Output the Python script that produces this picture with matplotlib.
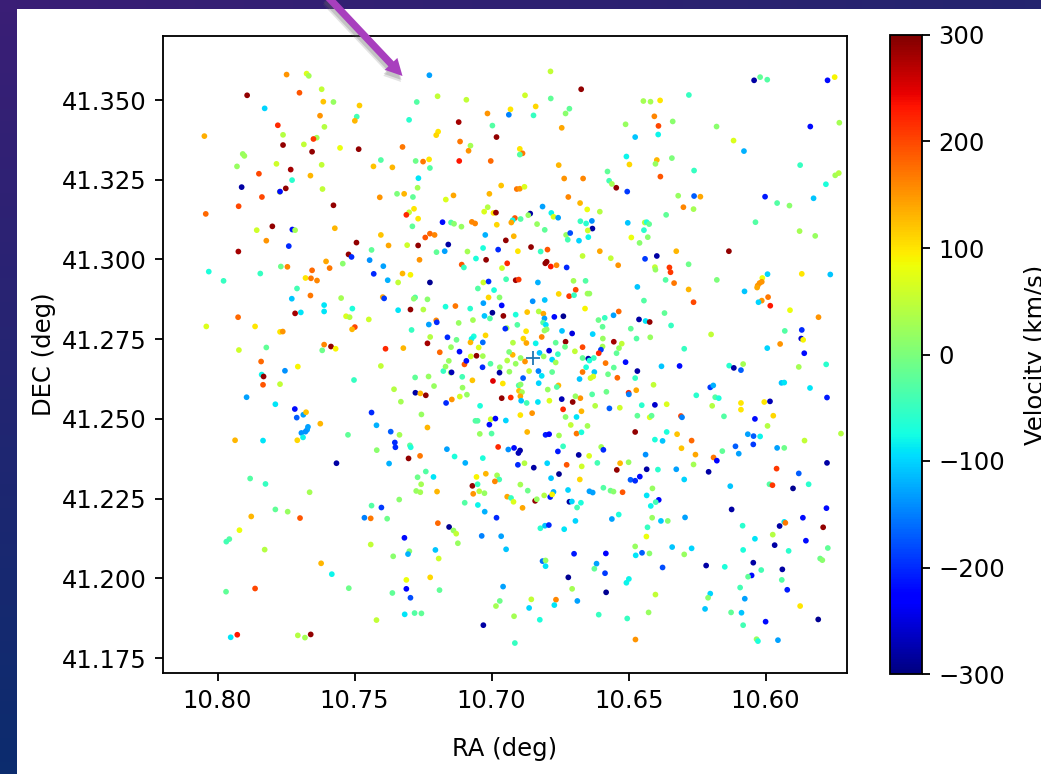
import numpy as np
import matplotlib
matplotlib.use('Agg')
import matplotlib.pyplot as plt
from matplotlib.patches import FancyArrowPatch, Rectangle

# ---- data: RA (deg), DEC (deg), velocity (km/s), region by region ----
ra_nw = [10.7748,10.7675,10.7667,10.7620,10.7701,10.7892,10.7614,10.7577,10.7482,10.7227,10.7273,10.7197,
 10.7092,10.7828,10.7626,10.7492,10.7499,10.7301,10.7780,10.7610,10.7015,10.7120,10.6997,10.7195,
 10.7202,10.8048,10.7761,10.7638,10.7650,10.7761,10.7685,10.7655,10.7553,10.7485,10.7325,10.7115,
 10.7077,10.7084,10.6982,10.7908,10.7902,10.7929,10.7785,10.7733,10.7620,10.7404,10.7431,10.7362,
 10.7277,10.7250,10.7228,10.7225,10.7118,10.7003,10.7849,10.7661,10.7728,10.7267,10.7912,10.7751,
 10.7773,10.7772,10.7617,10.7270,10.7345,10.7319,10.7408,10.7287,10.7139,10.7167,10.7008,10.7838,
 10.7923,10.7577,10.8043,10.7014,10.7027,10.6993,10.6984,10.7283,10.7301,10.7311,10.7268,10.7179,
 10.7148,10.7137,10.7110,10.7072,10.7060,10.6981,10.7289,10.7857,10.7800,10.7727,10.7717,10.7572,
 10.7404,10.7225,10.7242,10.7208,10.7023,10.7822,10.7493,10.7740,10.7376,10.7308,10.7268,10.7158,
 10.7171,10.7201,10.7031,10.6976,10.7088,10.7924,10.7438,10.7522,10.7511,10.7445,10.7604,10.7591,
 10.7543,10.7395,10.7263,10.7057,10.7020,10.7109,10.7101,10.7769,10.7745,10.8032,10.7844,10.7655,
 10.7430,10.7325,10.7296,10.7679,10.7659,10.7637,10.7379,10.7341,10.7978,10.7225,10.7030,10.7011,
 10.7710,10.7050,10.6991,10.7661,10.7729,10.7549,10.7397,10.7392,10.7279,10.7284,10.7234,10.7011,
 10.6971,10.7611,10.7508,10.7341,10.7296,10.7249,10.7168,10.7132,10.7078,10.7030,10.6963,10.7611,
 10.7717,10.7696,10.6997,10.7026,10.7006,10.7531,10.7518,10.7448,10.7925,10.7120,10.7068,10.7202,
 10.7200,10.7229,10.7863,10.8041,10.7772,10.7762,10.7499,10.7509,10.7292,10.7224,10.7161,10.7022,
 10.7065,10.7073,10.7128,10.7032,10.7077,10.7611,10.7586,10.7569,10.7822,10.7922,10.7618,10.7387,
 10.7322,10.7234,10.7148,10.7047]
dec_nw = [41.3580,41.3583,41.3576,41.3534,41.3523,41.3515,41.3495,41.3494,41.3483,41.3578,41.3494,41.3512,
 41.3501,41.3474,41.3451,41.3448,41.3435,41.3438,41.3421,41.3416,41.3458,41.3431,41.3420,41.3401,
 41.3390,41.3387,41.3391,41.3382,41.3378,41.3359,41.3361,41.3338,41.3350,41.3346,41.3353,41.3370,
 41.3357,41.3341,41.3384,41.3331,41.3325,41.3292,41.3300,41.3282,41.3297,41.3312,41.3292,41.3289,
 41.3309,41.3307,41.3314,41.3287,41.3309,41.3309,41.3269,41.3263,41.3249,41.3255,41.3227,41.3223,
 41.3212,41.3213,41.3221,41.3225,41.3206,41.3206,41.3195,41.3196,41.3201,41.3188,41.3206,41.3196,
 41.3167,41.3170,41.3143,41.3164,41.3150,41.3146,41.3147,41.3159,41.3148,41.3140,41.3128,41.3117,
 41.3116,41.3112,41.3103,41.3118,41.3113,41.3109,41.3104,41.3092,41.3104,41.3094,41.3092,41.3098,
 41.3077,41.3081,41.3069,41.3077,41.3077,41.3059,41.3053,41.3042,41.3044,41.3045,41.3044,41.3047,
 41.3026,41.3023,41.3036,41.3031,41.3025,41.3025,41.3030,41.3016,41.3008,41.2998,41.2994,41.2973,
 41.2987,41.2979,41.2999,41.3003,41.2999,41.2984,41.2975,41.2978,41.2977,41.2962,41.2956,41.2966,
 41.2955,41.2956,41.2952,41.2942,41.2941,41.2934,41.2935,41.2928,41.2933,41.2928,41.2928,41.2931,
 41.2909,41.2909,41.2904,41.2887,41.2877,41.2879,41.2882,41.2878,41.2881,41.2877,41.2875,41.2881,
 41.2881,41.2857,41.2846,41.2841,41.2843,41.2843,41.2852,41.2854,41.2846,41.2863,41.2856,41.2837,
 41.2831,41.2834,41.2833,41.2823,41.2815,41.2822,41.2819,41.2812,41.2819,41.2801,41.2810,41.2809,
 41.2803,41.2796,41.2790,41.2790,41.2773,41.2774,41.2788,41.2781,41.2779,41.2757,41.2756,41.2762,
 41.2759,41.2751,41.2748,41.2740,41.2740,41.2733,41.2727,41.2720,41.2724,41.2716,41.2715,41.2720,
 41.2722,41.2737,41.2725,41.2724]
vel_nw = [150,70,30,50,190,290,120,20,115,-130,-30,50,
 50,-100,150,-40,130,-60,220,40,150,280,-30,100,
 110,135,40,30,210,290,50,290,80,290,170,170,
 30,150,290,20,25,20,60,280,50,-30,120,130,
 -10,170,100,-30,230,180,200,130,-60,-90,-280,290,
 60,-220,50,30,0,130,150,-20,140,70,130,200,
 200,290,180,40,70,100,290,100,50,220,100,-220,
 -30,10,20,160,160,110,-20,60,290,-220,30,130,
 120,180,190,160,-120,150,290,-200,140,60,290,-280,
 -130,-20,-70,-200,30,280,-20,290,-200,-140,140,170,
 10,-130,150,-70,290,190,-50,-10,160,-70,-50,180,
 -200,130,90,100,170,160,-120,50,-50,-290,60,-200,
 -40,-30,-70,170,-110,30,140,-190,-30,10,10,110,
 10,-90,-70,-90,290,40,-70,170,-60,-130,-220,-90,
 280,-90,-290,-110,-30,70,40,60,180,20,30,160,
 -200,-130,100,70,100,150,200,130,-50,40,-200,110,
 -70,-80,-10,-160,130,160,290,90,-20,60,-10,220,
 130,280,20,70]

ra_ne = [10.6785,10.6673,10.6878,10.6784,10.6931,10.6937,10.6839,10.6847,10.6716,10.6730,10.6744,
 10.6446,10.6420,10.6385,10.6280,10.6406,10.6391,10.6339,10.6511,10.6476,10.6392,10.6179,10.6117,
 10.6020,10.6042,10.5994,10.5774,10.5748,10.5837,10.5731,10.6079,
 10.6897,10.6887,10.6897,10.6508,10.6397,10.6402,10.6342,10.6497,10.6755,10.6577,10.6261,10.6384,10.5874,
 10.6965,10.6735,10.6666,10.6908,10.6897,10.6880,10.6571,10.6561,10.6545,10.6505,10.5780,10.5746,10.5733,
 10.6720,10.6677,10.6319,10.6261,10.6238,10.6002,10.5825,10.5958,10.5913,10.6814,10.6300,10.6263,10.6651,10.6605,
 10.6859,10.6866,10.6782,10.6774,10.6757,10.6915,10.6923,10.6928,10.6894,10.6363,10.6676,10.6655,10.6634,10.6503,10.6441,10.6434,10.6425,10.6037,
 10.6834,10.6806,10.6728,10.6713,10.6632,10.6649,10.6444,10.5876,10.5819,10.6919,10.6948,10.6722,10.6681,10.6647,10.6490,10.6430,10.6460,
 10.6856,10.6796,10.6821,10.6904,10.6605,10.6326,10.6134,10.6668,10.6565,10.6440,10.6397,10.6281,10.6538,
 10.6804,10.6799,10.6784,10.6763,10.6726,10.6943,10.6962,10.6351,10.6347,10.6404,10.6402,10.5993,10.5868,10.5764,
 10.6947,10.6912,10.6901,10.6831,10.6701,10.6657,10.6365,10.6178,10.6334,10.6468,10.6077,10.6012,10.6014,10.6022,10.6029,10.6031,
 10.6693,10.6281,10.6755,10.6717,10.6699,10.6650,10.6643,10.6850,10.6806,10.6444,10.6014,10.6026,10.5991,10.6263,10.5983,10.5911,
 10.6659,10.6828,10.6870,10.6811,10.6807,10.6912,10.6771,10.6738,10.6536,10.6555,10.6587,10.6610,10.6957,10.6369,10.5807,
 10.6812,10.6802,10.6906,10.6945,10.6950,10.6799,10.6807,10.6462,10.6438,10.6423,10.6595,10.6345,10.6492,
 10.6743,10.6874,10.6706,10.6631,10.5930,10.5868,10.6199,10.5870,10.5863,10.6817,10.6884,10.6594,10.6471,10.6421,
 10.6922,10.6873,10.6839,10.6766,10.6730,10.6554,10.6525,10.5947,10.5994,10.6668,10.6732,10.6595,10.6535,10.6297,10.6601]
dec_ne = [41.3590,41.3534,41.3515,41.3505,41.3471,41.3454,41.3480,41.3452,41.3473,41.3458,41.3413,
 41.3497,41.3495,41.3499,41.3516,41.3449,41.3419,41.3433,41.3424,41.3384,41.3392,41.3417,41.3373,
 41.3572,41.3562,41.3564,41.3562,41.3572,41.3417,41.3429,41.3340,
 41.3347,41.3333,41.3329,41.3323,41.3312,41.3300,41.3318,41.3298,41.3296,41.3276,41.3279,41.3260,41.3296,
 41.3232,41.3254,41.3254,41.3221,41.3222,41.3228,41.3247,41.3237,41.3225,41.3213,41.3236,41.3264,41.3271,
 41.3196,41.3177,41.3200,41.3199,41.3197,41.3197,41.3192,41.3177,41.3169,41.3166,41.3164,41.3158,41.3157,41.3150,
 41.3144,41.3139,41.3146,41.3134,41.3131,41.3130,41.3123,41.3116,41.3127,41.3140,41.3120,41.3113,41.3121,41.3115,41.3116,41.3117,41.3111,41.3117,
 41.3111,41.3093,41.3077,41.3083,41.3097,41.3091,41.3092,41.3089,41.3074,41.3073,41.3060,41.3062,41.3059,41.3070,41.3069,41.3070,41.3052,
 41.3039,41.3031,41.3025,41.3026,41.3026,41.3026,41.3026,41.3011,41.3004,41.3002,41.3011,41.2985,41.2982,
 41.2988,41.2993,41.2978,41.2982,41.2975,41.2988,41.2973,41.2975,41.2960,41.2976,41.2968,41.2954,41.2955,41.2953,
 41.2938,41.2935,41.2937,41.2928,41.2933,41.2933,41.2936,41.2936,41.2926,41.2914,41.2900,41.2942,41.2930,41.2926,41.2918,41.2912,
 41.2905,41.2906,41.2892,41.2885,41.2888,41.2893,41.2893,41.2869,41.2873,41.2871,41.2871,41.2866,41.2882,41.2866,41.2855,41.2841,
 41.2846,41.2837,41.2835,41.2830,41.2815,41.2827,41.2820,41.2822,41.2837,41.2825,41.2817,41.2810,41.2823,41.2832,41.2819,
 41.2802,41.2795,41.2795,41.2785,41.2783,41.2781,41.2777,41.2812,41.2807,41.2804,41.2789,41.2793,41.2783,
 41.2776,41.2775,41.2768,41.2766,41.2776,41.2779,41.2765,41.2752,41.2748,41.2757,41.2752,41.2752,41.2752,41.2756,
 41.2739,41.2738,41.2737,41.2739,41.2742,41.2742,41.2736,41.2735,41.2722,41.2725,41.2726,41.2727,41.2722,41.2720,41.2717]
vel_ne = [50,290,60,-20,100,-150,110,-50,-20,10,140,
 30,30,100,-50,160,200,10,20,-110,-80,10,70,
 -20,-280,-30,-220,90,-220,30,-120,
 100,170,-30,-80,130,20,0,110,130,-20,-50,190,-50,
 120,150,160,170,150,70,-40,30,290,-190,-70,30,40,
 160,130,20,-170,140,-210,-110,-30,10,-130,160,30,80,40,
 -280,20,-80,70,-130,190,-80,140,-30,-20,-50,-60,-140,-110,40,-70,-20,-30,
 20,-20,20,-180,-280,60,-60,30,20,130,290,-40,-100,-80,80,10,10,
 290,190,-50,100,140,130,290,50,50,-190,-280,-10,150,
 290,290,230,160,-200,220,60,210,210,50,20,-100,100,-110,
 -40,280,210,-120,30,-30,-30,0,170,-110,-110,80,150,150,150,140,
 200,130,110,210,-50,30,20,-140,-110,-30,150,-100,170,200,230,80,
 90,40,120,140,-130,-70,-220,-290,180,-130,-50,-10,290,-20,150,
 -30,-90,-30,30,-200,10,20,-280,-90,290,-20,-50,-20,
 -110,100,-250,-100,-30,-200,50,-260,90,160,110,20,-30,20,
 40,140,-80,-20,290,280,50,150,-100,200,-10,30,20,-50,-190]

ra_sw = [10.7841,10.7707,10.7754,10.7839,10.7832,10.7834,10.7772,10.7894,10.7789,10.7718,10.7711,10.7687,10.7677,10.7625,
 10.7670,10.7673,10.7679,10.7694,10.7688,10.7709,10.7936,10.7834,10.7524,10.7566,10.7881,10.7825,10.7664,10.7789,10.7744,10.7699,10.7877,10.7920,
 10.7957,10.7968,10.7828,10.7622,10.7583,10.7863,10.7969,10.7521,10.7928,10.7952,10.7707,10.7681,10.7660,10.7420,
 10.7438,10.7420,10.7368,10.7336,10.7353,10.7351,10.7419,10.7298,10.7295,10.7261,10.7303,10.7374,10.7163,10.7135,10.7096,10.7032,10.7256,10.7234,
 10.7404,10.7502,10.7356,10.7331,10.7278,10.7260,10.7240,10.7279,10.7230,10.7210,10.7176,10.7168,10.7156,10.7149,10.7146,
 10.7107,10.7106,10.7116,10.7090,10.7099,10.7092,10.7076,10.7055,10.7032,10.7033,10.7004,10.6970,10.6971,10.7070,10.6995,
 10.7166,10.7145,10.7042,10.7059,10.7051,10.7008,10.7003,10.6986,10.7043,10.7000,10.6976,10.7270,10.7240,10.7212,10.7257,10.7275,10.7260,10.7199,10.7337,
 10.7055,10.7021,10.6980,10.6972,10.6988,10.7070,10.7051,10.7067,10.7045,10.7026,10.7438,10.7402,10.7464,10.7441,10.7381,10.7098,10.7050,10.7025,10.6982,10.7196,
 10.7155,10.7139,10.7129,10.7123,10.7036,10.7318,10.7441,10.7300,10.7305,10.7205,10.7359,10.7193,10.7311,10.7224,10.7311,10.7190,10.7362,10.7296,10.7317,10.7281,10.7256,10.6970,10.6984,10.7030,10.7117,10.7189]
dec_sw = [41.2680,41.2664,41.2651,41.2639,41.2633,41.2607,41.2609,41.2568,41.2546,41.2531,41.2504,41.2513,41.2521,41.2485,
 41.2475,41.2466,41.2460,41.2456,41.2442,41.2433,41.2433,41.2432,41.2450,41.2361,41.2313,41.2296,41.2270,41.2216,41.2209,41.2189,41.2194,41.2151,
 41.2123,41.2115,41.2090,41.2047,41.2013,41.1968,41.1958,41.1969,41.1823,41.1815,41.1821,41.1814,41.1824,41.1869,
 41.2520,41.2480,41.2460,41.2450,41.2426,41.2411,41.2402,41.2417,41.2411,41.2384,41.2376,41.2360,41.2405,41.2382,41.2362,41.2377,41.2514,41.2473,
 41.2666,41.2622,41.2593,41.2554,41.2582,41.2580,41.2574,41.2630,41.2633,41.2603,41.2650,41.2664,41.2682,41.2645,41.2646,
 41.2632,41.2598,41.2570,41.2576,41.2671,41.2682,41.2696,41.2698,41.2697,41.2662,41.2673,41.2662,41.2645,41.2621,41.2619,
 41.2550,41.2561,41.2541,41.2494,41.2494,41.2482,41.2499,41.2501,41.2453,41.2454,41.2412,41.2317,41.2335,41.2318,41.2295,41.2274,41.2270,41.2272,41.2247,
 41.2318,41.2328,41.2323,41.2310,41.2304,41.2290,41.2295,41.2265,41.2273,41.2267,41.2228,41.2222,41.2190,41.2188,41.2187,41.2237,41.2230,41.2209,41.2190,41.2173,
 41.2161,41.2150,41.2140,41.2110,41.2133,41.2127,41.2106,41.2085,41.2076,41.2089,41.2069,41.2062,41.1995,41.2003,41.1967,41.1963,41.1954,41.1939,41.1887,41.1891,41.1890,41.1929,41.1913,41.1853,41.2711,41.2709]
vel_sw = [180,90,-140,-80,290,190,50,-130,-90,-220,-170,-130,120,130,
 -130,-130,-140,-140,-80,110,130,-90,-20,-280,-30,-50,30,-20,20,190,130,80,
 -30,-40,40,130,-80,200,-20,-10,230,-90,40,30,290,50,
 -200,-120,-170,30,-200,-200,10,-20,-70,170,290,-120,-130,-70,-120,-70,20,130,
 50,-50,40,30,-280,130,290,-20,20,20,-50,20,20,30,-270,
 -40,20,60,20,190,-220,60,290,30,-200,-30,20,-280,120,250,
 -200,150,-70,-30,-30,-220,60,-230,20,-30,220,-10,-30,-90,30,20,30,130,10,
 90,130,30,-40,160,290,-50,150,40,20,-30,-190,-150,170,-10,-30,-80,-120,-200,180,
 -290,20,50,20,-150,-220,50,10,-120,-110,10,60,80,110,-230,-20,-20,-180,-90,-30,-20,-10,30,-280,-220,180]

ra_se = [10.6790,10.6825,10.6758,10.6923,10.6936,10.6894,10.6943,10.6912,10.6878,10.6810,10.6779,10.6766,
 10.6696,10.6668,10.6647,10.6627,10.6643,10.6609,10.6544,10.6584,10.6511,10.6554,10.6380,10.6314,10.6133,10.6116,10.6090,10.6082,10.5879,10.5779,10.5859,
 10.6655,10.6668,10.6625,10.6468,10.6575,10.6541,10.6629,10.6639,10.6679,10.6476,10.6935,10.6863,10.6829,10.6779,10.6817,10.6885,
 10.6959,10.6901,10.6894,10.6828,10.6756,10.6762,10.6409,10.6900,10.6889,10.6795,10.6581,10.6472,10.6500,10.6499,10.6633,10.6202,10.6191,10.6253,10.5942,10.5932,10.5838,10.5776,
 10.6963,10.6930,10.6895,10.6892,10.6872,10.6831,10.6789,10.6744,10.6704,10.6676,10.6694,10.6622,10.6570,10.6532,10.6452,10.6404,10.6361,10.6184,10.6171,10.6195,10.6090,10.6090,10.6005,10.5984,
 10.6739,10.6672,10.6852,10.6895,10.6730,10.6690,10.6468,10.6423,10.6416,10.6309,10.6305,10.6152,10.6039,10.5972,10.6948,10.6711,10.6650,10.5993,
 10.6870,10.6803,10.6790,10.6754,10.6690,10.6672,10.6476,10.6361,10.6323,10.6065,10.6044,10.6020,10.5725,10.6404,10.6376,10.6270,10.5858,
 10.6739,10.6600,10.6592,10.6939,10.6918,10.6896,10.6902,10.6758,10.6307,10.6110,10.6045,10.5958,10.5932,10.6682,10.6644,10.6438,10.6256,10.6098,10.6158,10.6190,10.6178,
 10.6904,10.6880,10.6846,10.6797,10.6726,10.6671,10.6614,10.6531,10.6500,10.6543,10.6434,10.6393,10.6326,10.6263,10.5776,10.5960,
 10.6754,10.6783,10.6678,10.6493,10.6476,10.6459,10.6297,10.6208,10.5879,10.6895,10.6721,10.6592,10.6566,10.6555,10.6522,10.6413,10.6129,10.5986,10.5975,10.5900,10.5843,
 10.6868,10.6774,10.6643,10.6631,10.6434,10.6943,10.6929,10.6920,10.6808,10.6786,10.6779,10.6841,10.6835,10.6716,10.6707,10.6674,10.6688,10.6390,10.6419,10.6401,10.6887,10.6124,10.5778,
 10.6536,10.6561,10.6694,10.6414,10.6382,10.6357,10.6294,10.5864,10.5932,10.5928,10.5949,10.5790,10.6084,10.6822,10.6805,10.6791,10.6735,10.6431,10.6435,10.5974,10.6039,10.5853,
 10.6965,10.6947,10.6476,10.6341,10.6270,10.5967,10.6699,10.6583,10.6474,10.6451,10.6424,10.6297,10.6082,10.5916,10.5773,
 10.6814,10.6803,10.6803,10.6617,10.6625,10.6586,10.6376,10.6217,10.6149,10.6045,10.5939,10.6016,10.5801,10.5793,10.6720,10.6499,10.6508,10.6051,10.6064,10.5941,
 10.6958,10.6706,10.6582,10.6402,10.6093,10.5921,10.6202,10.6210,10.6855,10.6765,10.6771,10.6687,10.6863,10.6221,10.6076,10.5874,
 10.6918,10.6824,10.6609,10.6505,10.6427,10.6126,10.6088,10.6082,10.6000,10.5808,10.6915,10.6475,10.6033,10.6028,10.5955]
dec_se = [41.2714,41.2707,41.2703,41.2701,41.2710,41.2691,41.2683,41.2673,41.2680,41.2696,41.2686,41.2677,
 41.2712,41.2691,41.2689,41.2691,41.2683,41.2706,41.2706,41.2675,41.2678,41.2661,41.2665,41.2666,41.2667,41.2660,41.2653,41.2672,41.2663,41.2671,41.2706,
 41.2662,41.2647,41.2647,41.2650,41.2640,41.2629,41.2633,41.2628,41.2625,41.2628,41.2648,41.2650,41.2650,41.2647,41.2635,41.2628,
 41.2611,41.2605,41.2608,41.2612,41.2605,41.2600,41.2607,41.2588,41.2584,41.2592,41.2585,41.2590,41.2582,41.2577,41.2577,41.2599,41.2605,41.2574,41.2613,41.2614,41.2597,41.2567,
 41.2565,41.2567,41.2571,41.2557,41.2550,41.2553,41.2557,41.2562,41.2553,41.2565,41.2571,41.2541,41.2533,41.2535,41.2543,41.2544,41.2546,41.2568,41.2565,41.2541,41.2550,41.2529,41.2553,41.2555,
 41.2530,41.2524,41.2518,41.2512,41.2506,41.2506,41.2510,41.2505,41.2510,41.2509,41.2505,41.2508,41.2500,41.2510,41.2495,41.2481,41.2478,41.2478,
 41.2459,41.2450,41.2452,41.2448,41.2454,41.2458,41.2459,41.2459,41.2452,41.2452,41.2446,41.2445,41.2454,41.2435,41.2431,41.2432,41.2432,
 41.2414,41.2412,41.2403,41.2404,41.2409,41.2401,41.2393,41.2398,41.2408,41.2414,41.2420,41.2409,41.2409,41.2387,41.2384,41.2388,41.2388,41.2391,41.2399,41.2379,41.2369,
 41.2356,41.2361,41.2347,41.2361,41.2356,41.2351,41.2362,41.2361,41.2364,41.2340,41.2342,41.2341,41.2342,41.2357,41.2362,41.2344,
 41.2327,41.2314,41.2310,41.2309,41.2306,41.2319,41.2310,41.2334,41.2329,41.2294,41.2277,41.2284,41.2275,41.2272,41.2270,41.2282,41.2289,41.2295,41.2292,41.2282,41.2295,
 41.2275,41.2271,41.2273,41.2269,41.2260,41.2256,41.2252,41.2240,41.2260,41.2255,41.2263,41.2243,41.2248,41.2240,41.2241,41.2237,41.2222,41.2246,41.2227,41.2239,41.2221,41.2216,41.2220,
 41.2200,41.2186,41.2180,41.2190,41.2180,41.2180,41.2191,41.2190,41.2177,41.2174,41.2164,41.2160,41.2165,41.2157,41.2165,41.2167,41.2154,41.2160,41.2131,41.2137,41.2124,41.2118,
 41.2132,41.2091,41.2100,41.2098,41.2094,41.2104,41.2077,41.2078,41.2072,41.2080,41.2078,41.2075,41.2089,41.2086,41.2095,
 41.2054,41.2056,41.2038,41.2046,41.2030,41.2016,41.2034,41.2040,41.2036,41.2049,41.2028,41.2026,41.2062,41.2057,41.2003,41.1998,41.1986,41.2009,41.2005,41.1995,
 41.1974,41.1967,41.1956,41.1949,41.1971,41.1964,41.1952,41.1939,41.1934,41.1933,41.1916,41.1929,41.1907,41.1904,41.1936,41.1913,
 41.1881,41.1870,41.1886,41.1874,41.1893,41.1893,41.1892,41.1853,41.1864,41.1871,41.1797,41.1808,41.1809,41.1803,41.1806]
vel_se = [-250,-110,-50,130,0,20,40,20,150,20,-100,30,
 50,-20,-280,-50,-70,220,-20,170,-220,-20,-110,-220,-60,-280,-170,30,30,-60,-220,
 -70,170,-110,-280,-10,180,70,60,-110,-50,20,50,-150,-20,-90,-170,
 100,-30,10,-100,130,-30,50,120,30,20,-10,140,220,-150,-30,-190,-120,-60,-110,-90,-90,-210,
 290,220,140,-110,-40,-90,70,-270,290,150,20,40,-170,60,-60,-260,70,-30,-70,40,100,100,100,-270,
 220,130,150,100,10,-90,-20,70,-20,200,-150,-30,-220,110,-100,50,30,40,
 130,-210,-230,30,170,-70,290,-70,120,-130,-170,-80,40,-70,-110,180,50,
 -50,30,-200,-140,-220,-280,-270,-210,120,-170,-190,-130,-10,-280,70,-140,140,-130,-20,170,-230,
 -200,40,-280,-100,190,60,-40,130,20,290,-280,-60,-130,30,-280,210,
 -290,-110,110,-170,-200,-220,-100,-280,-170,30,-100,-30,-10,10,190,20,-110,-30,210,-290,-60,
 -10,-120,-130,-130,-90,140,-50,70,40,-210,90,290,20,-280,-100,-70,-40,-230,-80,-40,140,-280,-220,
 -70,-130,-100,20,-110,10,-130,-220,-90,170,-280,290,-60,-60,-110,-200,-90,-50,80,40,-90,-220,
 -130,-110,20,-110,-100,-280,-210,-230,-90,-170,10,20,-70,-60,-20,
 -160,20,-90,-130,-20,-190,-180,-280,-70,-280,-280,-40,-10,10,-290,-80,-80,-220,-20,-30,
 -130,30,-290,50,-40,-210,-100,10,50,160,-90,-130,-100,-110,-130,100,
 30,-70,-50,-50,20,-20,-110,-40,-220,-290,-50,150,20,-70,-130]

center_ra = [10.6850]
center_dec = [41.2692]
x_ticks = [10.80, 10.75, 10.70, 10.65, 10.60]
y_ticks = [41.175, 41.200, 41.225, 41.250, 41.275, 41.300, 41.325, 41.350]
cbar_ticks = [-300, -200, -100, 0, 100, 200, 300]

W, H = 1041, 774
S = 1.65
plt.rcParams.update({'font.family': 'DejaVu Sans', 'font.size': 17.5,
                     'axes.linewidth': 0.8 * S,
                     'xtick.major.size': 3.5 * S, 'ytick.major.size': 3.5 * S,
                     'xtick.major.width': 0.8 * S, 'ytick.major.width': 0.8 * S,
                     'xtick.major.pad': 3.5 * S, 'ytick.major.pad': 3.5 * S})


def box(x0, y0, x1, y1):
    """Pixel box (top-left origin) to figure fractions."""
    return [x0 / W, 1 - y1 / H, (x1 - x0) / W, (y1 - y0) / H]


fig = plt.figure(figsize=(W / 100, H / 100), dpi=100)

# slide background behind the white panel
bg = fig.add_axes([0, 0, 1, 1], zorder=-5)
bg.axis('off')
yy, xx = np.mgrid[0:1:64j, 0:1:64j]
top_left, top_right = np.array([58, 30, 118]), np.array([36, 36, 110])
bot_left, bot_right = np.array([12, 44, 110]), np.array([12, 44, 110])
grad = ((1 - yy)[..., None] * ((1 - xx)[..., None] * top_left + xx[..., None] * top_right)
        + yy[..., None] * ((1 - xx)[..., None] * bot_left + xx[..., None] * bot_right)) / 255
bg.imshow(grad, extent=[0, 1, 0, 1], aspect='auto', origin='upper')
bg.add_patch(Rectangle((17 / W, 0), 1, 1 - 9 / H, transform=bg.transAxes, fc='white', ec='none'))

ax = fig.add_axes(box(163, 36, 847, 673))
ra = ra_nw + ra_ne + ra_sw + ra_se
dec = dec_nw + dec_ne + dec_sw + dec_se
vel = vel_nw + vel_ne + vel_sw + vel_se
sc = ax.scatter(ra, dec, c=vel, cmap='jet', vmin=-300, vmax=300, s=17, linewidths=0)
ax.plot(center_ra, center_dec, '+', color='tab:blue', ms=10, mew=1.3)
ax.set_xlim(10.8199, 10.5703)
ax.set_ylim(41.1703, 41.3701)
ax.set_xticks(x_ticks)
ax.set_xticklabels([f'{t:.2f}' for t in x_ticks])
ax.set_yticks(y_ticks)
ax.set_yticklabels([f'{t:.3f}' for t in y_ticks])
ax.set_xlabel('RA (deg)', labelpad=17.5)
ax.set_ylabel('DEC (deg)', labelpad=4.5)

cax = fig.add_axes(box(890, 35, 922, 674))
cb = fig.colorbar(sc, cax=cax)
cb.set_ticks(cbar_ticks)
cb.set_label('Velocity (km/s)', labelpad=13.5)

# slide annotation arrow
p0, p1 = (327 / W, 1 + 4 / H), (402.5 / W, 1 - 76 / H)
style = 'simple,head_width=12.5,head_length=12,tail_width=5.2'
for off_x, off_y, col, alpha in [(-1.5, 6, '#666666', 0.18), (-1, 4, '#666666', 0.25), (0, 0, '#A83FBE', 1.0)]:
    fig.add_artist(FancyArrowPatch((p0[0] + off_x / W, p0[1] - off_y / H), (p1[0] + off_x / W, p1[1] - off_y / H),
                                   transform=fig.transFigure, arrowstyle=style, mutation_scale=1,
                                   fc=col, ec='none', alpha=alpha, shrinkA=0, shrinkB=0))

fig.savefig('out.png', dpi=100)
